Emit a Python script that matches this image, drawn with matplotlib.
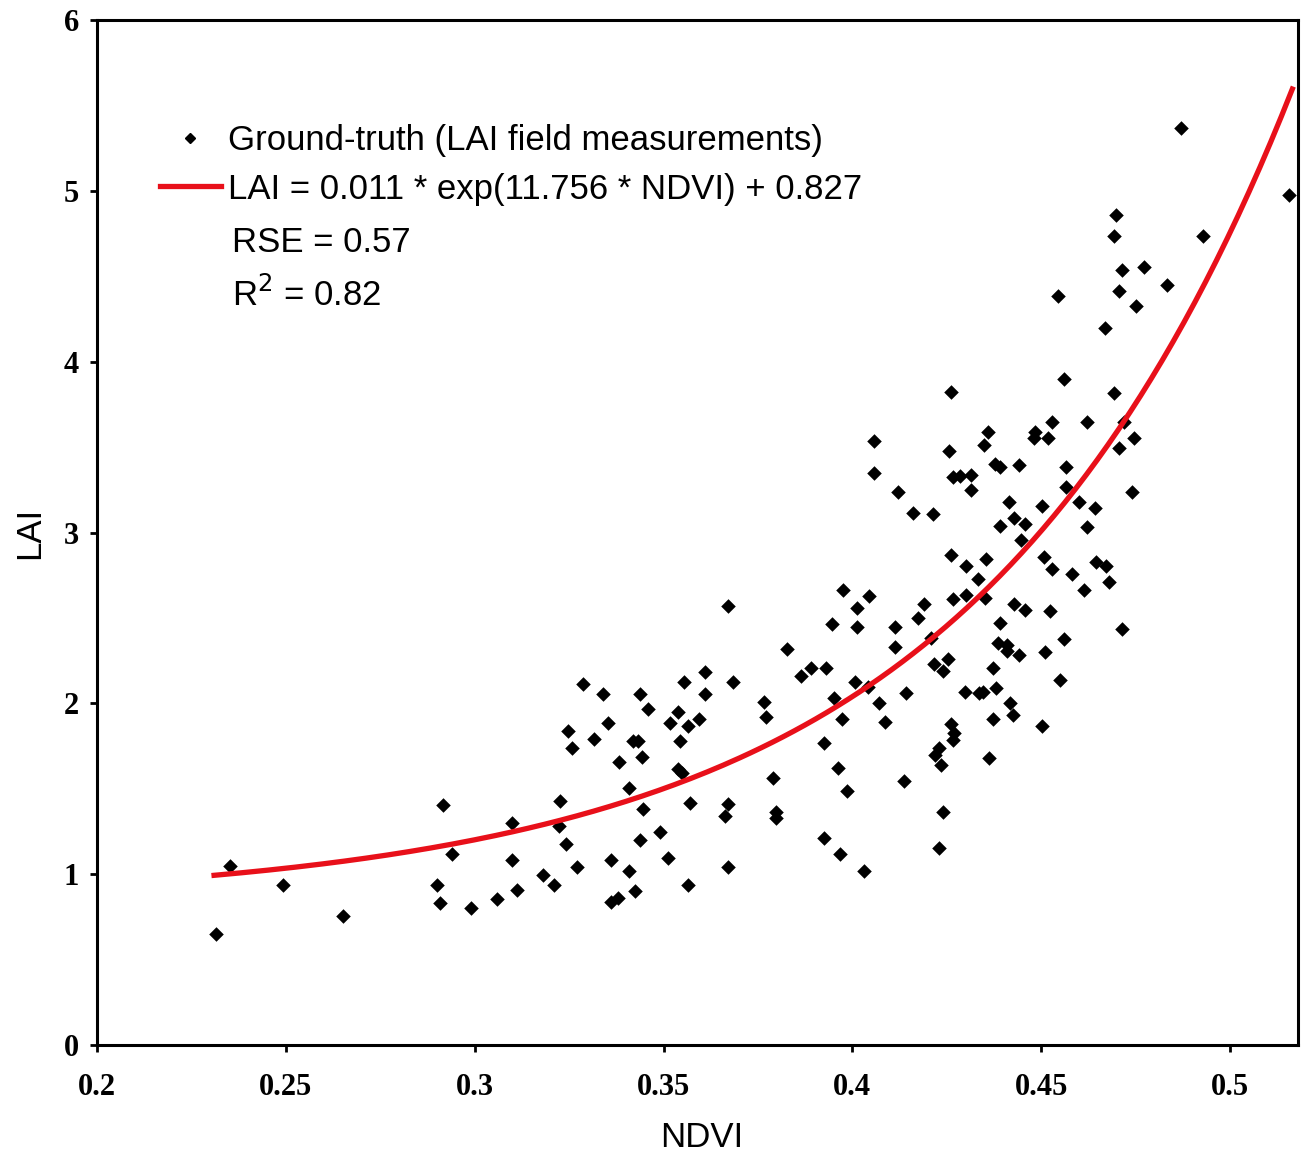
import numpy as np
import matplotlib
matplotlib.use("Agg")
import matplotlib.pyplot as plt
from matplotlib.lines import Line2D

ndvi = [0.2315, 0.2353, 0.2493, 0.2652, 0.2901, 0.2907, 0.2917, 0.2941, 0.2989,
        0.3288, 0.3339, 0.3437, 0.3458, 0.3352, 0.3246, 0.3257, 0.3315, 0.3418, 0.3432,
        0.3442, 0.3381, 0.3609, 0.3553, 0.3609, 0.3683, 0.3538, 0.3516, 0.3564, 0.3593,
        0.3543, 0.3538, 0.3548, 0.3408, 0.3227, 0.3098, 0.3222, 0.3445, 0.3569, 0.3670,
        0.3662, 0.3241, 0.3490, 0.3439, 0.3098, 0.3272, 0.3360, 0.3408, 0.3511, 0.3670,
        0.3182, 0.3211, 0.3113, 0.3060, 0.3360, 0.3379, 0.3424, 0.3564, 0.3670,
        0.4057, 0.4057, 0.3975, 0.4044, 0.4012, 0.3946, 0.4012, 0.3827, 0.3890, 0.3930,
        0.3864, 0.4007, 0.4041, 0.3951, 0.3766, 0.3771, 0.3972, 0.4070, 0.3925, 0.3962,
        0.3986, 0.3789, 0.3797, 0.3797, 0.3925, 0.3967, 0.4031, 0.4086,
        0.4261, 0.4359, 0.4349, 0.4256, 0.4378, 0.4391, 0.4442, 0.4267, 0.4285, 0.4314,
        0.4314, 0.4121, 0.4415, 0.4161, 0.4214, 0.4428, 0.4391, 0.4447, 0.4261, 0.4301,
        0.4354, 0.4333, 0.4267, 0.4301, 0.4351, 0.4190, 0.4174, 0.4428, 0.4391, 0.4113,
        0.4208, 0.4113, 0.4386, 0.4410, 0.4410, 0.4442, 0.4253, 0.4216, 0.4240, 0.4373,
        0.4142, 0.4298, 0.4336, 0.4346, 0.4381, 0.4418, 0.4426, 0.4373, 0.4261, 0.4269,
        0.4267, 0.4230, 0.4219, 0.4235, 0.4362, 0.4137, 0.4240, 0.4230,
        0.5155, 0.4699, 0.4694, 0.4929, 0.4715, 0.4773, 0.4834, 0.4707, 0.4545, 0.4752,
        0.4670, 0.4561, 0.4694, 0.4529, 0.4622, 0.4720, 0.4484, 0.4481, 0.4519, 0.4747,
        0.4707, 0.4566, 0.4566, 0.4741, 0.4503, 0.4601, 0.4643, 0.4458, 0.4622, 0.4508,
        0.4529, 0.4582, 0.4646, 0.4672, 0.4614, 0.4680, 0.4458, 0.4524, 0.4561, 0.4511,
        0.4715, 0.4550, 0.4503, 0.4871]
lai = [0.650, 1.048, 0.937, 0.755, 0.937, 0.831, 1.405, 1.118, 0.802,
       2.114, 2.055, 2.055, 1.967, 1.885, 1.838, 1.739, 1.792, 1.780, 1.780,
       1.686, 1.657, 2.184, 2.125, 2.055, 2.125, 1.950, 1.885, 1.868, 1.909,
       1.780, 1.616, 1.593, 1.505, 1.429, 1.300, 1.282, 1.382, 1.417, 1.411,
       1.341, 1.177, 1.247, 1.200, 1.083, 1.042, 1.083, 1.019, 1.095, 1.042,
       0.995, 0.937, 0.907, 0.855, 0.837, 0.861, 0.902, 0.937, 2.570,
       3.536, 3.349, 2.664, 2.629, 2.559, 2.465, 2.447, 2.319, 2.207, 2.207,
       2.160, 2.125, 2.096, 2.032, 2.008, 1.920, 1.909, 2.002, 1.768, 1.622,
       1.487, 1.563, 1.364, 1.329, 1.212, 1.118, 1.019, 1.891,
       3.823, 3.589, 3.513, 3.478, 3.402, 3.384, 3.396, 3.326, 3.331, 3.337,
       3.249, 3.238, 3.179, 3.115, 3.109, 3.085, 3.039, 2.957, 2.869, 2.804,
       2.845, 2.728, 2.611, 2.635, 2.617, 2.582, 2.500, 2.582, 2.471, 2.447,
       2.383, 2.330, 2.354, 2.342, 2.307, 2.283, 2.260, 2.231, 2.190, 2.207,
       2.061, 2.067, 2.061, 2.067, 2.090, 2.002, 1.932, 1.909, 1.879, 1.827,
       1.786, 1.739, 1.698, 1.639, 1.680, 1.546, 1.364, 1.153,
       4.977, 4.860, 4.737, 4.737, 4.537, 4.555, 4.450, 4.415, 4.385, 4.327,
       4.198, 3.899, 3.817, 3.648, 3.648, 3.648, 3.589, 3.554, 3.554, 3.554,
       3.495, 3.384, 3.267, 3.238, 3.156, 3.179, 3.144, 3.050, 3.033, 2.857,
       2.787, 2.758, 2.828, 2.804, 2.664, 2.711, 2.547, 2.541, 2.377, 2.301,
       2.436, 2.137, 1.868, 5.369]

# fitted model LAI = a * exp(b * NDVI) + c
fit_a, fit_b, fit_c = 0.011, 11.756, 0.827
fit_start, fit_end = 0.231, 0.5165

xticks = [0.2, 0.25, 0.3, 0.35, 0.4, 0.45, 0.5]
xtick_labels = ['0.2', '0.25', '0.3', '0.35', '0.4', '0.45', '0.5']
yticks = [0, 1, 2, 3, 4, 5, 6]

W, H = 1301, 1153
fig = plt.figure(figsize=(W / 100, H / 100), dpi=100)
ax = fig.add_axes([97 / W, 1 - 1045 / H, (1298 - 97) / W, (1045 - 20) / H])

ax.scatter(ndvi, lai, marker='D', s=55, c='black', linewidths=0, zorder=2)

x_fit = np.linspace(fit_start, fit_end, 200)
y_fit = fit_a * np.exp(fit_b * x_fit) + fit_c
ax.plot(x_fit, y_fit, color='#e8101a', lw=3.8, zorder=3)

ax.set_xlim(0.2, 0.518)
ax.set_ylim(0, 6)
ax.set_xticks(xticks)
ax.set_xticklabels(xtick_labels)
ax.set_yticks(yticks)

for s in ax.spines.values():
    s.set_linewidth(2.2)
ax.tick_params(direction='out', length=5, width=2, labelsize=22)
ax.tick_params(axis='x', pad=15)
ax.tick_params(axis='y', pad=8)
for lbl in ax.get_xticklabels() + ax.get_yticklabels():
    lbl.set_fontfamily('Liberation Serif')
    lbl.set_fontweight('bold')

ax.set_xlabel('NDVI', fontsize=25, family='Liberation Sans')
ax.set_ylabel('LAI', fontsize=25, family='Liberation Sans')
ax.xaxis.set_label_coords(0.5035, -0.074)
ax.yaxis.set_label_coords(-0.042, 0.5)

handles = [Line2D([], [], marker='D', color='black', ls='none', markersize=5),
           Line2D([], [], color='#e8101a', lw=3.8)]
labels = ['Ground-truth (LAI field measurements)',
          'LAI = 0.011 * exp(11.756 * NDVI) + 0.827']
leg = ax.legend(handles, labels, loc='upper left', frameon=False,
                bbox_to_anchor=(160 / W, 1 - 124 / H), bbox_transform=fig.transFigure,
                prop={'family': 'Liberation Sans', 'size': 25},
                borderpad=0, borderaxespad=0, handlelength=1.75,
                handletextpad=0.2, labelspacing=0.45)

fig.text(232 / W, 1 - 243 / H, 'RSE = 0.57', fontsize=25,
         family='Liberation Sans', va='center')
fig.text(232 / W, 1 - 295 / H, 'R$^2$ = 0.82', fontsize=25,
         family='Liberation Sans', va='center')

fig.savefig('out.png', dpi=100)
